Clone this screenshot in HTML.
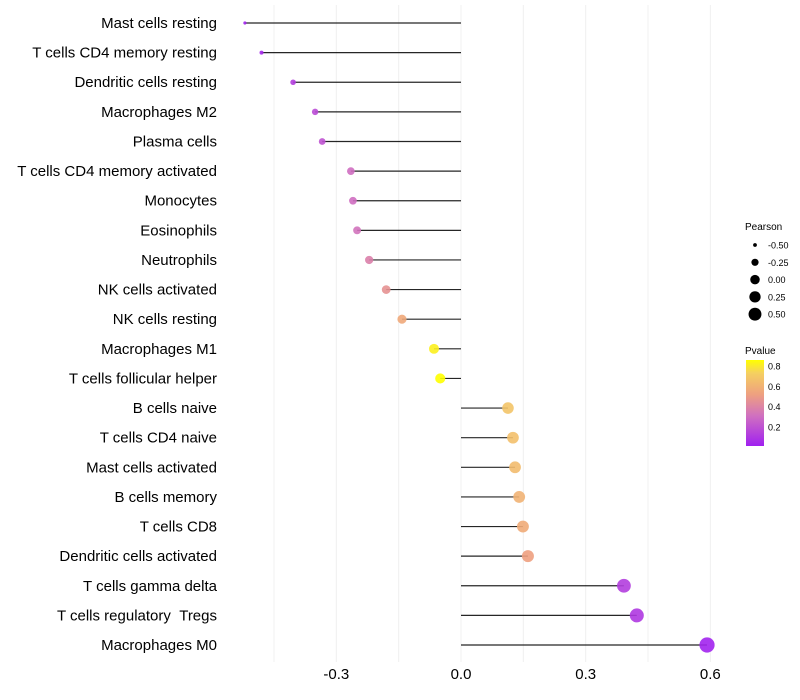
<!DOCTYPE html>
<html><head><meta charset="utf-8"><style>
body{margin:0;background:#fff;font-family:"Liberation Sans",sans-serif}
svg{display:block}
</style></head><body>
<svg id="chart" width="800" height="700">
<defs><linearGradient id="pg" x1="0" y1="1" x2="0" y2="0">
<stop offset="0" stop-color="#a020f0"/><stop offset="0.35" stop-color="#d070c0"/><stop offset="0.6" stop-color="#eea080"/><stop offset="0.85" stop-color="#f5d060"/><stop offset="1" stop-color="#ffff00"/></linearGradient></defs>
<g id="grid"></g>
<g id="marks"></g>
<g id="ylab"></g>
<g id="xlab"></g>
<g font-size="10" fill="#000">
<text x="745" y="230">Pearson</text>
<g id="sizeLeg"></g>
</g>
<g font-size="10">
<text x="745" y="354">Pvalue</text>
<rect x="746" y="360" width="18" height="86" fill="url(#pg)"/>
<g id="colLeg"></g>
</g>
</svg>
<script>
const categories=["Mast cells resting","T cells CD4 memory resting","Dendritic cells resting","Macrophages M2","Plasma cells","T cells CD4 memory activated","Monocytes","Eosinophils","Neutrophils","NK cells activated","NK cells resting","Macrophages M1","T cells follicular helper","B cells naive","T cells CD4 naive","Mast cells activated","B cells memory","T cells CD8","Dendritic cells activated","T cells gamma delta","T cells regulatory\u00a0\u00a0Tregs","Macrophages M0"];
const pearson=[-0.52,-0.48,-0.404,-0.351,-0.334,-0.265,-0.26,-0.25,-0.221,-0.18,-0.142,-0.065,-0.05,0.113,0.125,0.13,0.14,0.149,0.161,0.392,0.423,0.592];
const pvalues=[0.02,0.04,0.12,0.17,0.2,0.3,0.3,0.32,0.38,0.46,0.56,0.82,0.86,0.68,0.66,0.64,0.6,0.57,0.52,0.12,0.1,0.02];
const xTicks=[-0.3,0.0,0.3,0.6];
const gridVals=[-0.45,-0.3,-0.15,0,0.15,0.3,0.45,0.6];
const sizeLegend=[-0.5,-0.25,0,0.25,0.5];
const colLegend=[0.2,0.4,0.6,0.8];
const NS="http://www.w3.org/2000/svg";
const x=v=>461+v*415.6;
const y=i=>23+i*29.62;
const r=v=>Math.sqrt(Math.max(2.5,28+50*v));
const pc=p=>446-(p-0.01)*(86/0.85);
const stops=[[0,[160,32,240]],[0.35,[208,112,192]],[0.6,[238,160,128]],[0.85,[245,208,96]],[1,[255,255,0]]];
function col(p){let t=Math.min(1,Math.max(0,(p-0.01)/0.85));for(let k=1;k<stops.length;k++){if(t<=stops[k][0]){const a=stops[k-1],b=stops[k],f=(t-a[0])/(b[0]-a[0]);return "rgb("+a[1].map((c,j)=>Math.round(c+(b[1][j]-c)*f)).join(",")+")";}}return "rgb(255,255,0)";}
function mk(tag,at,parent){const e=document.createElementNS(NS,tag);for(const k in at)e.setAttribute(k,at[k]);parent.appendChild(e);return e;}
const G=document.getElementById('grid'),M=document.getElementById('marks'),YL=document.getElementById('ylab'),XL=document.getElementById('xlab');
gridVals.forEach(v=>{const l=mk('line',{x1:x(v),x2:x(v),y1:5,y2:662,stroke:'#f0f0f0','stroke-width':1},G);

});
categories.forEach((c,i)=>{
const s=mk('line',{x1:x(0),x2:x(pearson[i]),y1:y(i),y2:y(i),stroke:'#000','stroke-width':1.2,'stroke-opacity':0.85},M);


const d=mk('circle',{cx:x(pearson[i]),cy:y(i),r:r(pearson[i]),fill:col(pvalues[i]),'fill-opacity':0.9},M);


const t=mk('text',{x:217,y:y(i)+5,'text-anchor':'end','font-size':15,fill:'#000'},YL);t.textContent=c;

});
xTicks.forEach(v=>{const t=mk('text',{x:x(v),y:679,'text-anchor':'middle','font-size':15,fill:'#000'},XL);t.textContent=v.toFixed(1);

});
const SL=document.getElementById('sizeLeg');
sizeLegend.forEach((v,i)=>{const cy=245+i*17.3;const c=mk('circle',{cx:755,cy:cy,r:Math.sqrt(Math.max(2.5,22.5+38*v)),fill:'#000'},SL);


const t=mk('text',{x:768,y:cy+3.5,'font-size':9},SL);t.textContent=v.toFixed(2);

});
const CL=document.getElementById('colLeg');
colLegend.forEach(v=>{const t=mk('text',{x:768,y:pc(v)+3.5,'font-size':9},CL);t.textContent=v.toFixed(1);

});
</script>
</body></html>
